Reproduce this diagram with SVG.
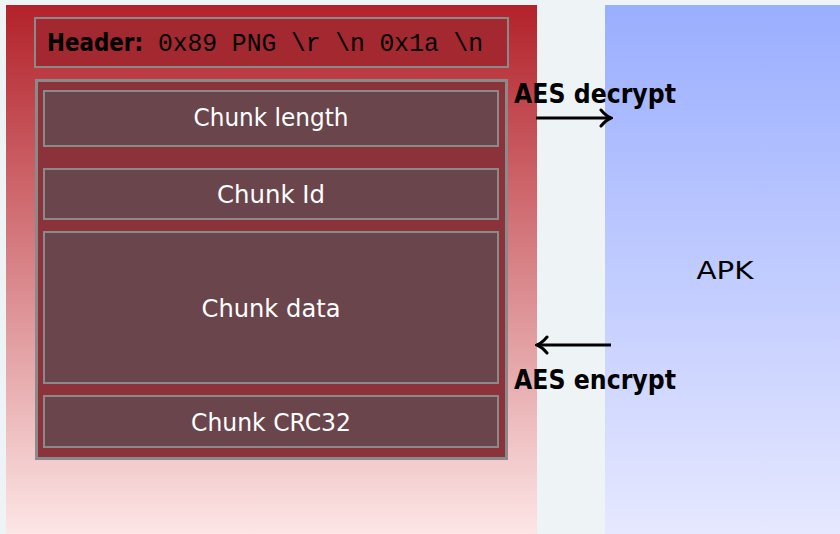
<svg xmlns="http://www.w3.org/2000/svg" width="840" height="534" viewBox="0 0 840 534">
  <defs>
    <linearGradient id="redFade" x1="0" y1="0" x2="0" y2="1">
      <stop offset="0" stop-color="#b3222a"/>
      <stop offset="1" stop-color="#fde6e6"/>
    </linearGradient>
    <linearGradient id="blueFade" x1="0" y1="0" x2="0" y2="1">
      <stop offset="0" stop-color="#9aaeff"/>
      <stop offset="1" stop-color="#e6e8ff"/>
    </linearGradient>
    <marker id="head" viewBox="0 0 14 20" markerWidth="14" markerHeight="20" refX="12" refY="10" orient="auto" markerUnits="userSpaceOnUse">
      <path d="M2 2 Q7 8 12 10 Q7 12 2 18" fill="none" stroke="#000" stroke-width="3" stroke-linecap="round"/>
    </marker>
    <style>
      .box { stroke: #8a8a8a; stroke-width: 2; }
      .chunk { fill: #6b454c; stroke: #8a8a8a; stroke-width: 2; }
      .lbl { font-family: "DejaVu Sans", "Open Sans", sans-serif; font-size: 25px; fill: #ffffff; text-anchor: middle; }
      .op { font-family: "DejaVu Sans", "Liberation Sans", sans-serif; font-size: 26px; font-weight: bold; fill: #000; }
      .arrow { stroke: #000; stroke-width: 3.2; fill: none; marker-end: url(#head); }
    </style>
  </defs>

  <rect x="0" y="0" width="840" height="534" fill="#eef3f6"/>

  <!-- PNG container panel -->
  <g id="png">
    <rect x="6" y="5" width="531" height="529" fill="url(#redFade)"/>
    <g id="header">
      <rect x="35" y="18" width="473" height="49" fill="#a3282f" class="box"/>
      <text x="47" y="51" font-family="DejaVu Sans, Liberation Sans, sans-serif" font-size="25" font-weight="bold" fill="#000" textLength="96" lengthAdjust="spacingAndGlyphs">Header:</text>
      <text x="158" y="51" font-family="Liberation Mono, DejaVu Sans Mono, monospace" font-size="26" fill="#000" textLength="325" lengthAdjust="spacingAndGlyphs">0x89 PNG \r \n 0x1a \n</text>
    </g>
    <g id="chunk">
      <rect x="36.5" y="80.5" width="470" height="378" fill="#8c323a" stroke="#8a8a8a" stroke-width="3"/>
      <g id="chunk-length">
        <rect x="44" y="91" width="454" height="55" class="chunk"/>
        <text x="271" y="126" class="lbl" textLength="155" lengthAdjust="spacingAndGlyphs">Chunk length</text>
      </g>
      <g id="chunk-id">
        <rect x="44" y="169" width="454" height="50" class="chunk"/>
        <text x="271" y="203" class="lbl" textLength="108" lengthAdjust="spacingAndGlyphs">Chunk Id</text>
      </g>
      <g id="chunk-data">
        <rect x="44" y="232" width="454" height="151" class="chunk"/>
        <text x="271" y="317" class="lbl" textLength="139" lengthAdjust="spacingAndGlyphs">Chunk data</text>
      </g>
      <g id="chunk-crc">
        <rect x="44" y="396" width="454" height="51" class="chunk"/>
        <text x="271" y="431" class="lbl" textLength="160" lengthAdjust="spacingAndGlyphs">Chunk CRC32</text>
      </g>
    </g>
  </g>

  <!-- application panel -->
  <g id="apk">
    <rect x="605" y="5" width="235" height="529" fill="url(#blueFade)"/>
    <text x="725" y="279" font-family="DejaVu Sans, Open Sans, sans-serif" font-size="24" fill="#000" text-anchor="middle" textLength="57" lengthAdjust="spacingAndGlyphs">APK</text>
  </g>

  <!-- connectors -->
  <g id="connectors">
    <line x1="536" y1="118" x2="611" y2="118" class="arrow"/>
    <text x="514" y="103" class="op" textLength="162" lengthAdjust="spacingAndGlyphs">AES decrypt</text>
    <line x1="611" y1="345" x2="537" y2="345" class="arrow"/>
    <text x="514" y="389" class="op" textLength="162" lengthAdjust="spacingAndGlyphs">AES encrypt</text>
  </g>
</svg>
